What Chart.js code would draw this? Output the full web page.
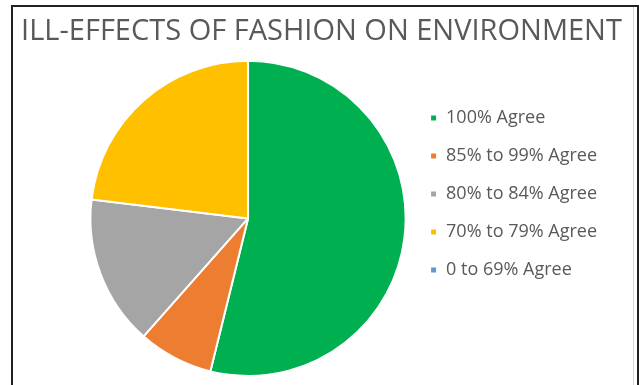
<!DOCTYPE html>
<html>
<head>
<meta charset="utf-8">
<script src="https://cdn.jsdelivr.net/npm/chart.js@4"></script>
<style>
    html, body { margin: 0; padding: 0; background: #ffffff; }
    .chart-box { position: relative; width: 639px; height: 385px; overflow: hidden; }
    .frame {
        position: absolute; left: 11px; top: 5px; width: 624px; height: 400px;
        border-left: 2px solid #222; border-top: 2px solid #222; border-right: 2px solid #222;
        pointer-events: none;
    }
    .inner-edge { position: absolute; left: 633px; top: 7px; width: 1px; height: 380px; background: #d9d9d9; }
    canvas { position: absolute; left: 0; top: 0; }
</style>
</head>
<body>
<div class="chart-box">
    <canvas id="fashionPieChart" width="639" height="385"></canvas>
    <div class="inner-edge"></div>
    <div class="frame"></div>
</div>
<script>
// survey answers (count of respondents per band)
var labels = ['100% Agree', '85% to 99% Agree', '80% to 84% Agree', '70% to 79% Agree', '0 to 69% Agree'];
var responses = [7, 1, 2, 3, 0];
var sliceColors = ['#00b050', '#ed7d31', '#a5a5a5', '#ffc000', '#5b9bd5'];

// keep the title centred on the whole frame, not on the padded area
var centerTitle = {
    id: 'centerTitle',
    afterLayout: function (chart) {
        var t = chart.titleBlock;
        if (t) {
            t.left = 12;
            t.right = 631;
            t.width = t.right - t.left;
        }
    }
};

function fashionChart() {
    var ctx = document.getElementById('fashionPieChart').getContext('2d');
    var fashionPieChart = new Chart(ctx, {
        type: 'pie',
        data: {
            labels: labels,
            datasets: [{
                data: responses,
                backgroundColor: sliceColors,
                borderColor: '#ffffff',
                borderWidth: 2
            }]
        },
        options: {
            responsive: false,
            animation: false,
            layout: {
                padding: { left: 86, right: 32, top: 0, bottom: 8 }
            },
            plugins: {
                title: {
                    display: true,
                    text: 'ILL-EFFECTS OF FASHION ON ENVIRONMENT',
                    color: '#595959',
                    font: { family: 'Open Sans', size: 29, weight: 'normal' },
                    padding: { top: 14, bottom: 11 }
                },
                legend: {
                    display: true,
                    position: 'right',
                    // empty legend title, only used to push the items down a bit
                    title: {
                        display: true,
                        text: '',
                        font: { size: 9 },
                        padding: 0
                    },
                    labels: {
                        color: '#595959',
                        font: { family: 'Open Sans', size: 18 },
                        boxWidth: 7,
                        boxHeight: 7,
                        padding: 20
                    }
                },
                tooltip: { enabled: false }
            }
        },
        plugins: [centerTitle]
    });
}

document.addEventListener('DOMContentLoaded', () => {
    fashionChart();
});
</script>
</body>
</html>
